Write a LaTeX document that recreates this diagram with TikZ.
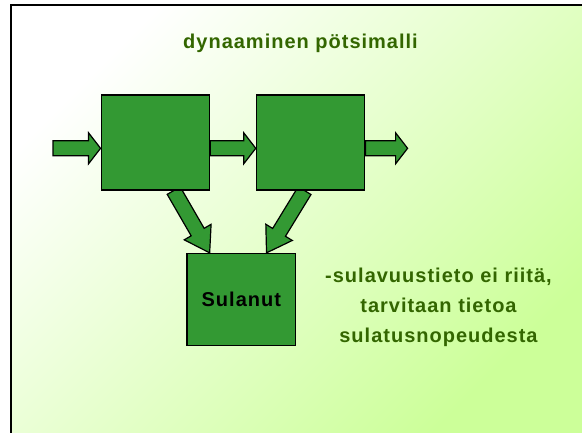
\documentclass[tikz,border=0pt]{standalone}
\usepackage{fontspec}
\newfontfamily\slidefont{Liberation Sans}[LetterSpace=5]
\usetikzlibrary{calc, positioning}
\definecolor{boxgreen}{RGB}{51,153,51}
\definecolor{textgreen}{RGB}{51,102,0}
\definecolor{bggreen}{RGB}{204,255,153}

\newcommand{\fatarrow}[3][12]{%
  \filldraw[bigarrow] let \p1=#2, \p2=#3,
      \n1={atan2(\y2-\y1,\x2-\x1)}, \n2={veclen(\x2-\x1,\y2-\y1)} in
    [shift={(\p1)}, rotate=\n1]
    (0pt,-7.5pt) -- ({\n2*1pt-#1pt},-7.5pt) -- ({\n2*1pt-#1pt},-15.5pt)
    -- ({\n2*1pt},0pt) -- ({\n2*1pt-#1pt},15.5pt) -- ({\n2*1pt-#1pt},7.5pt)
    -- (0pt,7.5pt) -- cycle;}

\begin{document}
\begin{tikzpicture}[
        x=1pt, y=-1pt,
        pool/.style={draw=black, fill=boxgreen, line width=1.2pt, inner sep=0pt,
            minimum width=108.5pt, minimum height=95pt},
        bigarrow/.style={draw=black, fill=boxgreen, line width=1.2pt, line join=miter},
        every node/.style={font=\slidefont\bfseries\fontsize{20}{30}\selectfont}
    ]
    \useasboundingbox (0,0) rectangle (582,432);
    \clip (0,0) rectangle (582,432);
    \shade[top color=white, bottom color=bggreen, shading angle=45] (11,5) rectangle (582,432);
    \draw[line width=2pt, line join=miter] (11,440) |- (590,5);

    \node[text=textgreen, anchor=base] (title) at (300.5,48.3) {dynaaminen pötsimalli};

    \node[pool] (pool1) at (155.4,142.5) {};
    \node[pool, right=45.5pt of pool1] (pool2) {};
    \node[pool, minimum height=92pt] (sulanut) at (241.3,299.5) {Sulanut};
    \coordinate (inflow) at (53,148.3);
    \coordinate (outflow) at (407.6,148.3);

    \fatarrow{(inflow)}{($(pool1.west)+(0,5.8)$)}
    \fatarrow{($(pool1.east)+(0,5.8)$)}{($(pool2.west)+(0,5.8)$)}
    \fatarrow{($(pool2.east)+(0,5.8)$)}{(outflow)}
    \fatarrow[24]{($(pool1.south)+(18.3,0)$)}{($(sulanut.north)+(-31.6,0)$)}
    \fatarrow[24]{($(pool2.south)+(-6,0)$)}{($(sulanut.north)+(25.2,0)$)}

    \node[pool] at (pool1) {};
    \node[pool] at (pool2) {};
    \node[pool, minimum height=92pt] at (sulanut) {Sulanut};

    \node[text=textgreen, align=center, inner sep=0pt] (note) at (438.5,307)
        {-sulavuustieto ei riitä,\\tarvitaan tietoa\\sulatusnopeudesta};
\end{tikzpicture}
\end{document}
